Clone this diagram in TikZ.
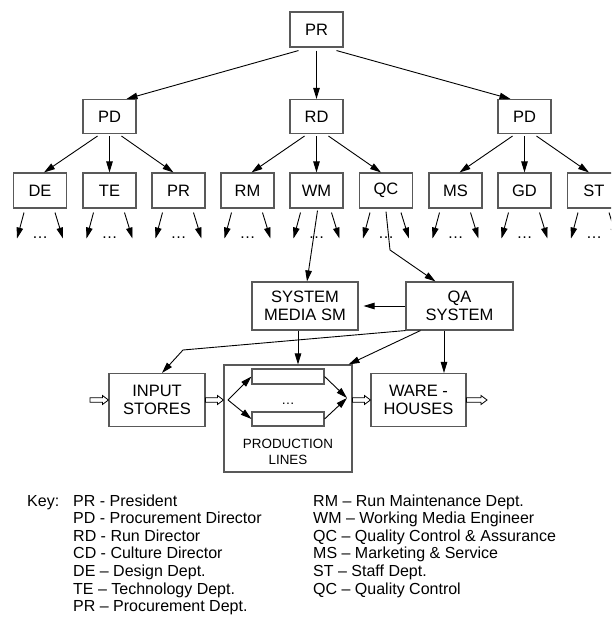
\documentclass[tikz,border=0pt]{standalone}
\usepackage{fontspec}
\setmainfont{Liberation Sans}
\usetikzlibrary{arrows.meta,calc}
\begin{document}
\begin{tikzpicture}[x=1pt,y=-1pt,
  box/.style={draw=black!65, line width=1.1pt, minimum width=53pt, minimum height=35pt, inner sep=0pt, align=center, font=\fontsize{16.5}{18}\selectfont},
  arr/.style={draw, line width=0.9pt, -{Triangle[length=11pt,width=6.5pt]}},
  dotsn/.style={inner sep=0pt, font=\fontsize{16}{18}\selectfont},
  keyt/.style={inner sep=0pt, anchor=base west, font=\fontsize{16}{18}\selectfont},
  blockarr/.style={line width=0.8pt, fill=white, draw,
    to path={let \p1=(\tikztostart), \p2=(\tikztotarget) in
      (\x1,\y1+2.2pt) -- (\x2-6pt,\y1+2.2pt) -- (\x2-6pt,\y1+4.5pt) -- (\x2,\y1)
      -- (\x2-6pt,\y1-4.5pt) -- (\x2-6pt,\y1-2.2pt) -- (\x1,\y1-2.2pt) -- cycle}},
]
\path[use as bounding box] (0,0) rectangle (611,618);
\clip (0,0) rectangle (611,618);

% top levels
\node[box] (pr) at (316.5,29.5) {PR};
\node[box, minimum height=34pt] (pd1) at (109.5,116.5) {PD};
\node[box, minimum height=34pt] (rd) at (316.5,116.5) {RD};
\node[box, minimum height=34pt] (pd2) at (524.5,116.5) {PD};

\draw[arr] ([shift={(-18,3)}]pr.south) -- ([xshift=17pt]pd1.north);
\draw[arr] ([shift={(0,3)}]pr.south) -- (rd.north);
\draw[arr] ([shift={(20,3)}]pr.south) -- ([xshift=-14pt]pd2.north);

% level 3
\foreach \nm/\lb/\xx in {de/DE/40, te/TE/109.5, prd/PR/178.5, rm/RM/247.5, wm/WM/316.5, qc/QC/386, ms/MS/455.5, gd/GD/524.5, st/ST/594} {
  \node[box] (\nm) at (\xx,190.5) {\lb};
  \draw[arr] ([shift={(-16,4)}]\nm.south) -- ++(-7,26);
  \draw[arr] ([shift={(15,4)}]\nm.south) -- ++(8,26);
  \node[dotsn, anchor=base] (dots\nm) at ([shift={(0,30)}]\nm.south) {…};
}

\foreach \p/\l/\m/\r in {pd1/de/te/prd, rd/rm/wm/qc, pd2/ms/gd/st} {
  \draw[arr] ([shift={(-12,2)}]\p.south) -- ([xshift=4pt]\l.north);
  \draw[arr] ([shift={(0,2)}]\p.south) -- (\m.north);
  \draw[arr] ([shift={(12,2)}]\p.south) -- ([xshift=-5pt]\r.north);
}

% middle part
\node[box, minimum width=106pt, minimum height=48pt] (sm) at (305,306) {SYSTEM\\MEDIA SM};
\node[box, minimum width=107pt, minimum height=48pt] (qa) at (459.5,306) {QA\\SYSTEM};
\node[box, minimum width=96pt, minimum height=53pt] (inp) at (157,400) {INPUT\\STORES};
\node[box, minimum width=95pt, minimum height=53pt] (ware) at (418.5,400) {WARE -\\HOUSES};
\node[box, minimum width=128pt, minimum height=107pt] (prod) at (288,418.5) {};
\node[box, minimum width=72pt, minimum height=15pt] (l1) at (288,376.5) {};
\node[box, minimum width=72pt, minimum height=14pt] (l2) at (288,419) {};
\node[inner sep=0pt, anchor=base, font=\fontsize{13.4}{15}\selectfont] (pdots) at (288,404) {…};
\node[inner sep=0pt, align=center, font=\fontsize{13.4}{16}\selectfont] (plab) at (288,452) {PRODUCTION\\LINES};

\draw[arr] (qa.west) -- ([xshift=5pt]sm.east);
\draw[arr] ([shift={(1,2)}]wm.south) -- ([xshift=2pt]sm.north);
\coordinate (qcb) at (390,250);
\draw[arr] ([shift={(0,3)}]qc.south) -- (qcb) -- ([xshift=-24pt]qa.north);
\coordinate (qai) at (183,350);
\draw[arr] (qa.south west) -- (qai) -- ([xshift=5pt]inp.north);
\draw[arr] ([xshift=15pt]qa.south west) -- ([xshift=-4pt]prod.north east);
\coordinate (smx) at ([xshift=-7pt]sm.south);
\draw[arr] (smx) -- (smx |- prod.north);
\coordinate (qw) at ([xshift=-15.5pt]qa.south);
\draw[arr] (qw) -- (qw |- ware.north);

\coordinate (fl) at (228,400);
\coordinate (fr) at (347,398);
\draw[arr] (fl) -- (l1.west);
\draw[arr] (fl) -- (l2.west);
\draw[arr] (l1.east) -- (fr);
\draw[arr] (l2.east) -- (fr);

\coordinate (bin) at (90,400);
\coordinate (bout) at (487,400);
\path[blockarr] (bin) to (inp.west);
\path[blockarr] (inp.east) to (prod.west);
\path[blockarr] (prod.east |- inp.east) to (ware.west);
\path[blockarr] (ware.east) to (bout);

% key
\node[keyt] (key) at (27,506) {Key:};
\foreach \t [count=\i from 0] in {PR - President, PD - Procurement Director, RD - Run Director, CD - Culture Director, DE – Design Dept., TE – Technology Dept., PR – Procurement Dept.}
  \node[keyt] (ka\i) at (73,506+17.6*\i) {\t};
\foreach \t [count=\i from 0] in {RM – Run Maintenance Dept., WM – Working Media Engineer, QC – Quality Control \& Assurance, MS – Marketing \& Service, ST – Staff Dept., QC – Quality Control}
  \node[keyt] (kb\i) at (313,506+17.6*\i) {\t};
\end{tikzpicture}
\end{document}
